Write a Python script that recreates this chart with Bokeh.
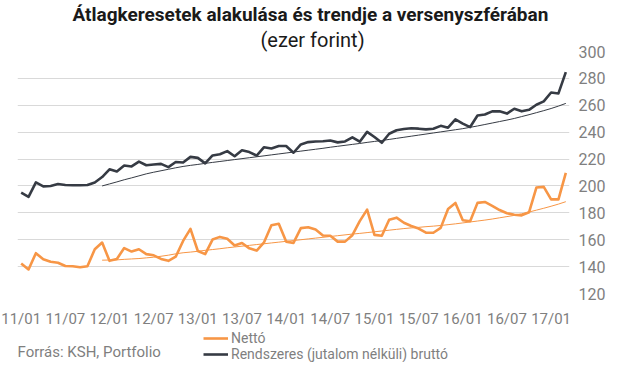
from bokeh.plotting import figure
from bokeh.layouts import column
from bokeh.models import ColumnDataSource, FixedTicker, Range1d, Label, Legend, LegendItem, Title
from bokeh.embed import file_html
from bokeh.resources import INLINE

# ---- data (thousand HUF), monthly 2011/01 .. 2017/03 ----
months = [f"{y:02d}/{m:02d}" for y in range(11, 18) for m in range(1, 13)][:75]
tick_labels = ["11/01", "11/07", "12/01", "12/07", "13/01", "13/07", "14/01",
               "14/07", "15/01", "15/07", "16/01", "16/07", "17/01"]

netto = [142.4, 137.9, 150.0, 145.5, 143.6, 142.9, 140.5, 140.3, 139.5, 140.3,
         152.9, 157.9, 144.3, 145.7, 153.8, 151.2, 152.9, 149.3, 148.4, 145.7,
         144.3, 147.4, 159.1, 168.1, 151.6, 149.3, 160.1, 162.1, 160.7, 155.7,
         157.6, 153.6, 151.9, 158.1, 170.7, 171.9, 158.6, 157.6, 168.6, 169.3,
         167.6, 163.1, 162.9, 158.6, 158.6, 163.4, 173.8, 182.4, 163.6, 162.9,
         174.8, 176.4, 172.6, 170.2, 168.3, 165.2, 165.2, 168.8, 182.9, 187.4,
         174.5, 173.8, 187.4, 188.1, 185.2, 182.1, 179.7, 178.6, 178.1, 180.4,
         198.8, 199.3, 190.0, 190.0, 209.7]

brutto = [195.0, 191.9, 202.6, 199.7, 200.0, 201.4, 200.7, 200.5, 200.5, 200.7,
          202.6, 206.6, 212.4, 210.7, 215.2, 214.5, 218.1, 215.4, 215.9, 216.4,
          214.0, 217.8, 217.4, 221.6, 220.9, 216.8, 222.7, 223.6, 225.9, 222.1,
          226.6, 225.2, 222.6, 228.8, 227.9, 229.7, 229.7, 224.7, 230.9, 232.6,
          233.1, 233.3, 233.8, 232.4, 233.1, 236.2, 232.9, 240.2, 236.4, 232.1,
          238.8, 241.4, 242.3, 242.9, 242.6, 242.1, 242.6, 244.7, 243.3, 249.5,
          246.4, 243.8, 252.4, 253.1, 255.5, 255.5, 253.8, 257.4, 255.5, 256.6,
          260.4, 262.9, 269.5, 268.8, 284.7]

# trend lines start at 2011/12
netto_trend = [144.8, 144.9, 145.0, 145.4, 145.7, 146.0, 146.5, 147.0, 147.7, 148.5,
               149.5, 150.3, 150.8, 151.4, 152.1, 152.7, 153.3, 154.0, 154.6, 155.2,
               155.8, 156.4, 157.0, 157.6, 158.2, 158.8, 159.4, 160.0, 160.6, 161.2,
               161.8, 162.4, 163.0, 163.6, 164.2, 164.7, 165.3, 165.9, 166.5, 167.1,
               167.7, 168.3, 168.8, 169.2, 169.7, 170.1, 170.6, 171.2, 171.8, 172.5,
               173.2, 173.9, 174.6, 175.4, 176.3, 177.2, 178.1, 179.3, 180.6, 182.0,
               183.4, 184.9, 186.5, 188.3]

brutto_trend = [200.0, 201.5, 203.0, 204.6, 206.0, 207.5, 209.0, 210.2, 211.3, 212.4,
                213.5, 214.5, 215.3, 216.0, 216.8, 217.5, 218.2, 218.9, 219.6, 220.3,
                221.0, 221.7, 222.4, 223.1, 223.8, 224.5, 225.2, 225.9, 226.6, 227.3,
                228.0, 228.8, 229.5, 230.2, 230.9, 231.6, 232.4, 233.1, 233.8, 234.6,
                235.4, 236.2, 237.0, 237.8, 238.6, 239.4, 240.2, 241.0, 241.8, 242.6,
                243.6, 244.6, 245.7, 246.8, 247.9, 249.0, 250.2, 251.6, 253.0, 254.5,
                256.0, 257.6, 259.4, 261.4]

y_ticks = [120, 140, 160, 180, 200, 220, 240, 260, 280, 300]

ORANGE = "#F79646"
DARK = "#363B44"
GREY = "#7f7f7f"
TITLE_C = "#1a1a1a"
FONT = "Roboto"

idx = list(range(len(months)))
tick_idx = [months.index(t) for t in tick_labels]
trend_start = len(months) - len(netto_trend)
tidx = list(range(trend_start, len(months)))

src = ColumnDataSource(dict(x=idx, netto=netto, brutto=brutto))
tsrc = ColumnDataSource(dict(x=tidx, netto=netto_trend, brutto=brutto_trend))

# ---------------- main chart ----------------
p = figure(width=608, height=330, output_backend="svg", toolbar_location=None, title=None,
           x_range=Range1d(-0.5, len(months) - 0.5), y_range=Range1d(120, 300),
           y_axis_location="right",
           min_border_left=17, min_border_right=29, min_border_top=50, min_border_bottom=28)
p.outline_line_color = None
p.border_fill_color = "white"

p.add_layout(Title(text="(ezer forint)", align="left", offset=243, standoff=0,
                   text_font=FONT, text_font_size="20px", text_font_style="normal",
                   text_color=TITLE_C), "above")
p.add_layout(Title(text="Átlagkeresetek alakulása és trendje a versenyszférában",
                   align="left", offset=55, standoff=0,
                   text_font=FONT, text_font_size="19px", text_font_style="bold",
                   text_color=TITLE_C), "above")

p.xgrid.visible = False
p.ygrid.ticker = FixedTicker(ticks=y_ticks)
p.ygrid.grid_line_color = "#d9d9d9"
p.ygrid.grid_line_width = 1

xa = p.xaxis[0]
xa.ticker = FixedTicker(ticks=tick_idx)
xa.major_label_overrides = {i: t for i, t in zip(tick_idx, tick_labels)}
xa.axis_line_color = None
xa.major_tick_line_color = None
xa.minor_tick_line_color = None
xa.major_label_standoff = 10
xa.major_label_text_font = FONT
xa.major_label_text_font_size = "15px"
xa.major_label_text_color = GREY

ya = p.yaxis[0]
ya.ticker = FixedTicker(ticks=y_ticks)
ya.axis_line_color = None
ya.major_tick_line_color = None
ya.minor_tick_line_color = None
ya.major_label_standoff = 3
ya.major_label_text_font = FONT
ya.major_label_text_font_size = "16px"
ya.major_label_text_color = GREY

p.line("x", "netto", source=tsrc, line_color=ORANGE, line_width=1)
p.line("x", "brutto", source=tsrc, line_color=DARK, line_width=1)
p.line("x", "netto", source=src, line_color=ORANGE, line_width=2.6, line_join="round")
p.line("x", "brutto", source=src, line_color=DARK, line_width=2.6, line_join="round")

# ---------------- footer: source note + legend ----------------
FH = 32
f = figure(width=608, height=FH, output_backend="svg", toolbar_location=None, title=None,
           x_range=Range1d(17, 579), y_range=Range1d(FH, 0),
           x_axis_type=None, y_axis_type=None,
           min_border_left=17, min_border_right=29, min_border_top=0, min_border_bottom=0)
f.outline_line_color = None
f.xgrid.visible = False
f.ygrid.visible = False
f.border_fill_color = "white"

# same series, out of this strip's view: only their legend samples show
l_net = f.line("x", "netto", source=src, line_color=ORANGE, line_width=2.6)
l_bru = f.line("x", "brutto", source=src, line_color=DARK, line_width=2.6)

f.add_layout(Label(x=17, y=21, text="Forrás: KSH, Portfolio", text_align="left",
                   text_baseline="middle", text_font=FONT, text_font_size="15px",
                   text_color=GREY))

ROW = 16
common = dict(orientation="vertical", background_fill_alpha=0, border_line_alpha=0,
              padding=0, margin=0, spacing=0, glyph_width=25, glyph_height=ROW,
              label_height=ROW, label_standoff=3, label_text_font=FONT,
              label_text_font_size="14px", label_text_color=GREY)
leg1 = Legend(items=[LegendItem(label="Nettó", renderers=[l_net])],
              location=(186, FH - ROW), **common)
leg2 = Legend(items=[LegendItem(label="Rendszeres (jutalom nélküli) bruttó", renderers=[l_bru])],
              location=(186, 0), **common)
f.add_layout(leg1, "center")
f.add_layout(leg2, "center")

layout = column(p, f, spacing=0)
open("out.html", "w").write(file_html(layout, INLINE))
